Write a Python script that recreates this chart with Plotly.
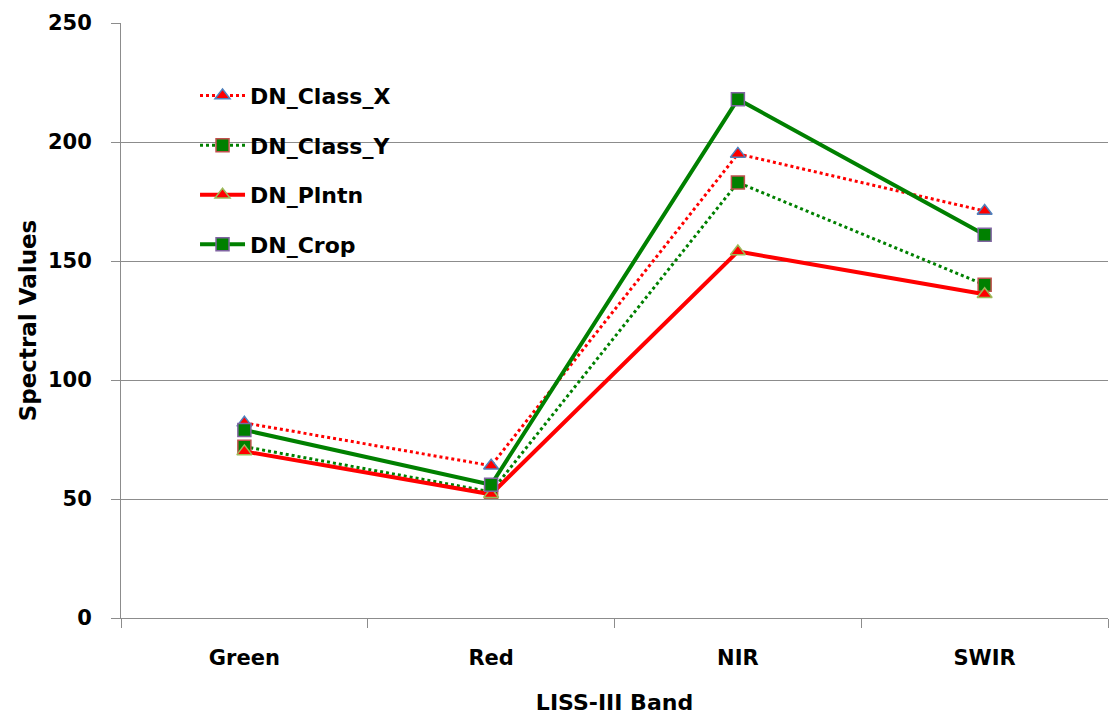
import plotly.graph_objects as go

bands = ["Green", "Red", "NIR", "SWIR"]
class_x = [82, 64, 195, 171]
class_y = [72, 53, 183, 140]
plntn = [70, 52, 154, 136]
crop = [79, 56, 218, 161]

series = [
    ("DN_Class_X", class_x, "red", "dot", 3, "triangle-up", "red", "#4F81BD"),
    ("DN_Class_Y", class_y, "green", "dot", 3, "square", "green", "#C0504D"),
    ("DN_Plntn", plntn, "red", "solid", 4, "triangle-up", "red", "#9BBB59"),
    ("DN_Crop", crop, "green", "solid", 4, "square", "green", "#8064A2"),
]

fig = go.Figure()
for i, (name, vals, lc, dash, w, sym, mc, oc) in enumerate(series):
    fig.add_trace(go.Scatter(
        x=bands, y=vals, name=name, mode="lines+markers",
        legendgroup=f"g{i}",
        line=dict(color=lc, dash=dash, width=w),
        marker=dict(symbol=sym, size=13, color=mc, line=dict(color=oc, width=1.5)),
    ))

font_family = "DejaVu Sans, sans-serif"
fig.update_layout(
    width=1110, height=715,
    margin=dict(l=121, r=2, t=23, b=97),
    plot_bgcolor="white", paper_bgcolor="white",
    font=dict(family=font_family, color="black"),
    showlegend=True,
    legend=dict(x=0.075, y=0.913, xanchor="left", yanchor="top",
                font=dict(size=22, family=font_family, weight="bold"),
                bgcolor="rgba(0,0,0,0)", tracegroupgap=18, itemwidth=45),
    xaxis=dict(
        title=dict(text="<b>LISS-III Band</b>", font=dict(size=22), standoff=26),
        tickfont=dict(size=21, weight="bold"),
        showline=True, linecolor="#8c8c8c", linewidth=1,
        ticks="outside", tickson="boundaries", ticklen=9, tickcolor="#8c8c8c",
        showgrid=False, range=[-0.5, 3.5], ticklabelstandoff=21,
    ),
    yaxis=dict(
        title=dict(text="<b>Spectral Values</b>", font=dict(size=23), standoff=4),
        tickfont=dict(size=21, weight="bold"),
        range=[0, 250], dtick=50,
        showline=True, linecolor="#8c8c8c", linewidth=1,
        ticks="outside", ticklen=9, tickcolor="#8c8c8c",
        showgrid=True, gridcolor="#8c8c8c", gridwidth=1,
        zeroline=False, ticklabelstandoff=15,
    ),
)

fig.write_html("out.html")
